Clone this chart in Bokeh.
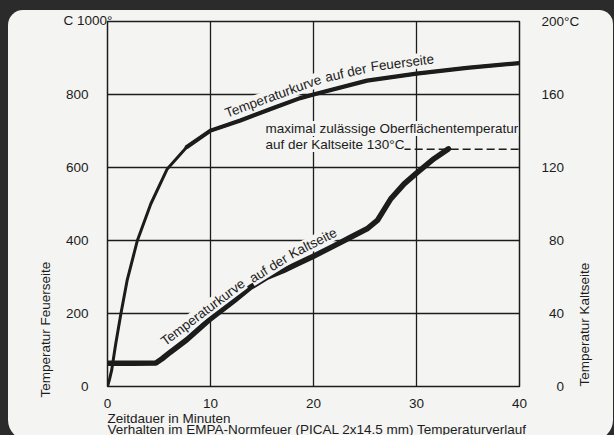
import math
from bokeh.plotting import figure
from bokeh.models import Range1d, LinearAxis, Label, FixedTicker, Title, InlineStyleSheet
from bokeh.embed import file_html
from bokeh.resources import INLINE

# ---- data ----
x_ticks = [0, 10, 20, 30, 40]
left_ticks = [0, 200, 400, 600, 800, 1000]
right_ticks = [0, 40, 80, 120, 160, 200]

fire_t = [0, 0.2, 0.4, 0.8, 1.3, 1.9, 2.9, 4.2, 5.8, 7.7, 10, 12.9, 16.1, 18.7, 20, 25.2, 30, 34.9, 40]
fire_v = [0, 20, 44, 117, 199, 290, 400, 500, 596, 656, 701, 729, 763, 790, 800, 838, 857, 873, 886]

cold_t = [0, 2.5, 4.7, 5.3, 6.1, 7.7, 10, 12.3, 13.9, 15.5, 17.1, 18.1, 20, 21.8, 23.6, 25.2, 26.2, 27.5, 28.8, 30, 31.7, 33.1]
cold_v = [12.8, 12.8, 12.9, 15.2, 18.8, 25.6, 37.1, 47.1, 54.4, 59.9, 63.6, 66.3, 71.4, 76.5, 81.8, 86.4, 91.0, 102.8, 111.0, 116.9, 124.8, 130.2]

limit_t = [20.5, 40]
limit_v = [130, 130]

INK = "#1c1c1c"
PAPER = "#f4f4f2"
DARK = "#2b2b2b"
FONT = "Liberation Sans"
FS = "13.5px"
FSP = "\u2007"  # figure space, digit wide (right-aligns the right tick labels)

p = figure(width=614, height=435, x_range=Range1d(0, 40), y_range=Range1d(0, 1000),
           output_backend="svg", toolbar_location=None,
           min_border_left=107, min_border_right=95, min_border_top=21, min_border_bottom=49,
           background_fill_color=PAPER, border_fill_color=PAPER)
p.extra_y_ranges = {"kalt": Range1d(0, 200)}
p.outline_line_color = INK
p.outline_line_width = 1.5
p.outline_line_alpha = 1

# dark scan surround with rounded paper corners (pure styling)
p.stylesheets = [InlineStyleSheet(css=f"""
:host {{ overflow: hidden !important; }}
:host::after {{
  content: "";
  position: absolute;
  left: 8px; top: 10px; right: 1px; bottom: -5px;
  border-radius: 15px 14px 20px 20px;
  box-shadow: 0 0 0 60px {DARK};
  pointer-events: none;
  z-index: 100;
}}
""")]

# axes
xa = p.xaxis[0]
xa.ticker = FixedTicker(ticks=x_ticks)
ya = p.yaxis[0]
ya.ticker = FixedTicker(ticks=left_ticks)
ya.major_label_overrides = {1000: ""}

ra = LinearAxis(y_range_name="kalt", ticker=FixedTicker(ticks=right_ticks))
ra.major_label_overrides = {t: (FSP * (3 - len(str(t))) + str(t)) for t in right_ticks}
ra.major_label_overrides[200] = "200°C"
ra.axis_label = "Temperatur  Kaltseite"
ra.axis_label_orientation = math.pi / 2
ra.axis_label_standoff = 2
ra.axis_label_text_font = FONT
ra.axis_label_text_font_size = FS
ra.axis_label_text_font_style = "normal"
ra.axis_label_text_color = INK
ra.axis_label_align = "start"
p.add_layout(ra, "right")

for ax in (xa, ya, ra):
    ax.axis_line_color = None
    ax.major_tick_line_color = None
    ax.minor_tick_line_color = None
    ax.major_label_text_font = FONT
    ax.major_label_text_font_size = FS
    ax.major_label_text_color = INK
xa.major_label_standoff = 6
ya.major_label_standoff = 13
ra.major_label_standoff = 16

# grid
p.xgrid.ticker = FixedTicker(ticks=x_ticks)
p.ygrid.ticker = FixedTicker(ticks=left_ticks)
for g in (p.xgrid, p.ygrid):
    g.grid_line_color = INK
    g.grid_line_width = 1.3
    g.grid_line_alpha = 1

# curves
p.line(limit_t, limit_v, y_range_name="kalt", line_color=INK, line_width=1.6, line_dash="8 4")
p.line(fire_t, fire_v, line_color=INK, line_width=3.0, line_join="round", line_cap="round")
p.line(fire_t[9:], fire_v[9:], line_color=INK, line_width=4.2, line_join="round", line_cap="round")
p.line(cold_t, cold_v, y_range_name="kalt", line_color=INK, line_width=5.5, line_join="round", line_cap="round")


def lab(x, y, text, angle=0.0, bg=PAPER):
    l = Label(x=x, y=y, text=text, angle=math.radians(angle), text_align="left",
              text_baseline="alphabetic", text_font=FONT, text_font_size=FS,
              text_color=INK, background_fill_color=bg)
    p.add_layout(l)
    return l

# curve labels (data units)
lab(11.46, 748, "Temperaturkurve", 20)
lab(21.15, 846, "auf der", 13)
lab(25.55, 876, "Feuerseite", 7)
lab(5.34, 120, "Temperaturkurve", 37)
lab(13.9, 293, "auf der", 32)
lab(17.7, 360, "Kaltseite", 27)
lab(15.34, 707, "maximal zulässige Oberflächentemperatur")
lab(15.34, 663, "auf der Kaltseite 130°C")


# texts outside the frame, as titles in the borders
def title(text, side, align, offset, standoff):
    t = Title(text=text, align=align, offset=offset, text_font=FONT, text_font_size=FS,
              text_font_style="normal", text_color=INK, vertical_align="bottom")
    try:
        t.standoff = standoff
    except Exception:
        t.standoff = 0
    p.add_layout(t, side)
    return t

title("C 1000°", "above", "left", -44, -12)
title("Temperatur  Feuerseite", "left", "left", -11, 20)
title("Zeitdauer in Minuten", "below", "left", 0, -4)
title("Verhalten im EMPA-Normfeuer (PICAL 2x14.5 mm) Temperaturverlauf", "below", "left", 0, -8)

open("out.html", "w").write(file_html(p, INLINE))
